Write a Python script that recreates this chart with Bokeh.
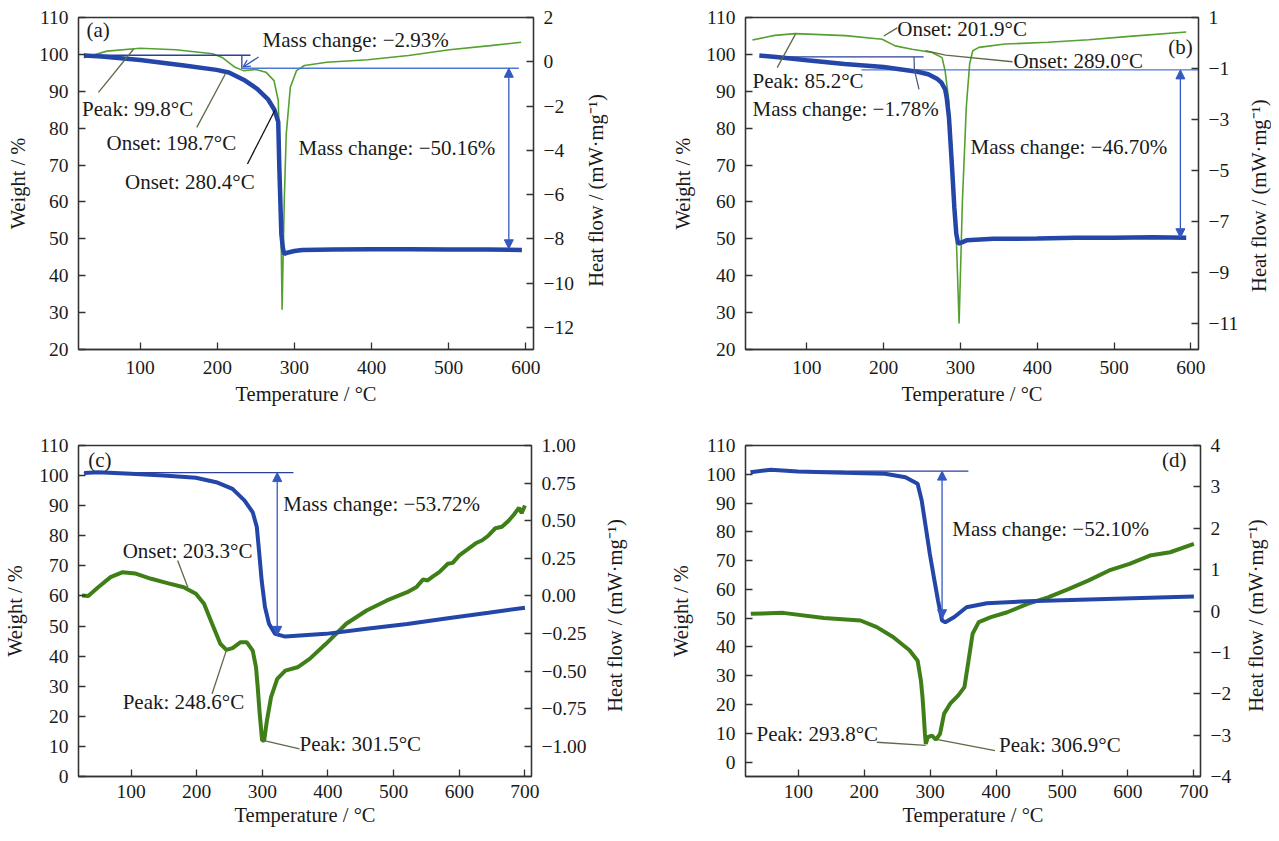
import math
from bokeh.plotting import figure
from bokeh.models import Range1d, LinearAxis, FixedTicker, Arrow, NormalHead, OpenHead
from bokeh.layouts import column, row
from bokeh.embed import file_html
from bokeh.resources import INLINE
from bokeh.core.properties import value

FONT = "Liberation Serif"
BLUE = "#2446a8"
GREEN_THIN = "#55a030"
GREEN_THICK = "#3f7f17"
DARKLINE = "#2b3f9b"
LIGHTLINE = "#4d79d6"
ARROWC = "#3558c0"
LEADER = "#5b6b45"
AXC = "#333333"
TXT = "#1a1a1a"
HF_TITLE = "Heat flow / (mW\u00b7mg\u207b\u00b9)"

# ---------------- data: panel (a) ----------------
temp_a_w = [27, 50, 100, 157, 199, 215, 236, 252, 265.5, 274, 279, 280.4, 283, 285, 286.8, 292, 300, 310, 350, 400, 450, 500, 550, 595]
weight_a = [99.7, 99.4, 98.5, 97.0, 95.8, 95.1, 92.9, 90.6, 87.9, 85.0, 81.7, 69.4, 51.4, 47.5, 45.9, 46.3, 46.7, 47.0, 47.1, 47.2, 47.2, 47.1, 47.1, 47.0]
temp_a_h = [27, 57, 100, 146, 194, 207, 223, 234, 250, 263, 273.5, 279, 281.5, 284, 286.8, 289.4, 294.7, 302.7, 313, 342, 395, 448, 501, 554, 594]
heat_a = [0.18, 0.48, 0.61, 0.54, 0.36, 0.18, -0.25, -0.40, -0.35, -0.47, -0.85, -1.75, -4.76, -11.2, -6.27, -3.26, -1.15, -0.40, -0.17, -0.02, 0.09, 0.28, 0.54, 0.73, 0.88]

# ---------------- data: panel (b) ----------------
temp_b_w = [38, 60, 100, 149, 200, 244, 258, 270, 275, 280, 282, 285, 289, 292, 294.5, 297, 300, 308, 343, 400, 450, 500, 550, 594]
weight_b = [99.7, 99.3, 98.4, 97.4, 96.6, 95.3, 94.6, 93.3, 92.4, 90.5, 88.3, 82.9, 69.4, 58.5, 51.4, 48.7, 48.9, 49.6, 50.0, 50.1, 50.3, 50.3, 50.4, 50.3]
temp_b_h = [29, 58, 85, 150, 198, 215, 237, 263, 276, 280, 284.8, 290, 294.4, 298.2, 302.5, 307.6, 312, 316, 324, 358, 414, 467, 520, 594]
heat_b = [0.12, 0.30, 0.37, 0.29, 0.15, -0.11, -0.24, -0.37, -0.57, -1.09, -2.26, -4.8, -7.46, -10.98, -6.2, -2.5, -0.8, -0.3, -0.17, -0.04, 0.03, 0.13, 0.26, 0.43]

# ---------------- data: panel (c) ----------------
temp_c_w = [28.6, 50, 99.8, 149.3, 198.8, 229.8, 254.6, 273, 285.4, 291.6, 295.4, 299, 304, 310.3, 319.5, 335, 396.9, 458.8, 520.7, 582.6, 644.5, 700]
weight_c = [100.9, 101.1, 100.6, 100.0, 99.3, 97.8, 95.6, 91.7, 87.8, 82.9, 74.0, 65.1, 56.3, 50.7, 47.4, 46.5, 47.4, 49.1, 50.7, 52.6, 54.4, 56.1]
temp_c_h = [25.5, 34.8, 50, 68.8, 87.4, 106, 130.7, 155.5, 180.3, 198.8, 211.2, 223.5, 236, 245.3, 254.6, 266.9, 276.2, 285.4, 290.4, 293, 296, 299.7, 302.8, 307, 313.3, 322.7, 335, 353.6, 372.1, 396.9, 427.8, 458.8, 489.8, 520.7, 535, 545, 551.7, 560, 570, 582.6, 590, 600, 613.6, 625, 635, 644.5, 655, 665, 675.5, 683, 691, 695, 700]
heat_c = [0.003, 0.0, 0.058, 0.125, 0.158, 0.15, 0.114, 0.085, 0.058, 0.014, -0.052, -0.185, -0.318, -0.358, -0.347, -0.307, -0.307, -0.363, -0.474, -0.607, -0.784, -0.961, -0.96, -0.828, -0.673, -0.551, -0.496, -0.474, -0.418, -0.318, -0.185, -0.097, -0.030, 0.025, 0.06, 0.11, 0.103, 0.13, 0.16, 0.214, 0.22, 0.27, 0.313, 0.35, 0.37, 0.402, 0.45, 0.46, 0.501, 0.54, 0.586, 0.55, 0.601]

# ---------------- data: panel (d) ----------------
temp_d_w = [27.6, 58.5, 99.3, 169.7, 231.5, 262.5, 281, 287.2, 293.4, 299.5, 305.7, 311.9, 318.1, 323, 336.7, 355.2, 386.1, 447.8, 540.5, 633.3, 700]
weight_d = [100.7, 101.6, 101.0, 100.5, 100.2, 99.0, 96.7, 90.9, 81.6, 72.4, 64.2, 56.2, 49.2, 48.6, 50.4, 53.8, 55.2, 55.9, 56.5, 57.1, 57.5]
temp_d_h = [28, 77, 138.9, 194.4, 219.1, 243.8, 268.7, 281, 286, 288.4, 290.2, 292.1, 293.4, 296.5, 302.7, 308.8, 315, 321.2, 330.4, 342.7, 352, 358.2, 364.4, 373.7, 392.2, 416.9, 447.8, 478.8, 509.7, 540.5, 571.5, 602.4, 633.3, 664, 700]
heat_d = [-0.068, -0.045, -0.17, -0.23, -0.39, -0.63, -0.95, -1.2, -1.68, -2.08, -2.48, -2.97, -3.21, -3.05, -3.01, -3.11, -2.97, -2.48, -2.24, -2.04, -1.84, -1.2, -0.55, -0.27, -0.15, -0.03, 0.17, 0.33, 0.53, 0.74, 0.98, 1.14, 1.34, 1.42, 1.62]

# ---------------- ticks ----------------
x_ticks_ab = [100, 200, 300, 400, 500, 600]
x_ticks_cd = [100, 200, 300, 400, 500, 600, 700]
w_ticks_ab = [20, 30, 40, 50, 60, 70, 80, 90, 100, 110]
w_ticks_cd = [0, 10, 20, 30, 40, 50, 60, 70, 80, 90, 100, 110]
h_ticks_a = [2, 0, -2, -4, -6, -8, -10, -12]
h_ticks_b = [1, -1, -3, -5, -7, -9, -11]
h_ticks_c = [1.0, 0.75, 0.5, 0.25, 0.0, -0.25, -0.5, -0.75, -1.0]
h_ticks_d = [4, 3, 2, 1, 0, -1, -2, -3, -4]

# ---------------- annotation texts ----------------
texts_a = ["(a)", "Mass change: \u22122.93%", "Peak: 99.8\u00b0C", "Onset: 198.7\u00b0C", "Onset: 280.4\u00b0C", "Mass change: \u221250.16%"]
tx_a = [30.4, 258.6, 24.7, 56.3, 80.3, 305.3]
ty_a = [106.5, 104.0, 85.3, 76.1, 65.4, 74.5]

texts_b = ["Onset: 201.9\u00b0C", "Onset: 289.0\u00b0C", "(b)", "Peak: 85.2\u00b0C", "Mass change: \u22121.78%", "Mass change: \u221246.70%"]
tx_b = [217.6, 368.9, 570.5, 29.1, 29.1, 313.0]
ty_b = [106.9, 98.2, 102.0, 92.9, 85.2, 74.8]

texts_c = ["(c)", "Mass change: \u221253.72%", "Onset: 203.3\u00b0C", "Peak: 248.6\u00b0C", "Peak: 301.5\u00b0C"]
tx_c = [34.9, 332.0, 87.3, 87.3, 356.7]
ty_c = [105.1, 90.6, 75.1, 24.7, 10.9]

texts_d = ["(d)", "Mass change: \u221252.10%", "Peak: 293.8\u00b0C", "Peak: 306.9\u00b0C"]
tx_d = [651.8, 333.5, 36.7, 404.6]
ty_d = [104.8, 81.1, 9.8, 5.8]


def lab(v, dec):
    s = f"{abs(v):.{dec}f}"
    return ("\u2212" + s) if v < 0 else s


def style_axis(ax, std_label, std_title):
    ax.major_tick_in = 7
    ax.major_tick_out = 0
    ax.minor_tick_line_color = None
    ax.axis_line_color = AXC
    ax.axis_line_width = 1.3
    ax.major_tick_line_color = AXC
    ax.major_tick_line_width = 1.3
    ax.major_label_text_font = FONT
    ax.major_label_text_font_size = "19.5px"
    ax.major_label_text_color = TXT
    ax.major_label_standoff = std_label
    ax.axis_label_text_font = FONT
    ax.axis_label_text_font_size = "20.5px"
    ax.axis_label_text_font_style = "normal"
    ax.axis_label_text_color = TXT
    ax.axis_label_standoff = std_title


def make_fig(width, height, mb, xr, yr, hr, xt, yt, ht, hdec, std):
    p = figure(width=width, height=height, x_range=Range1d(*xr), y_range=Range1d(*yr),
               output_backend="svg", toolbar_location=None,
               min_border_left=mb[0], min_border_right=mb[1],
               min_border_top=mb[2], min_border_bottom=mb[3])
    p.extra_y_ranges = {"hf": Range1d(*hr)}
    p.grid.visible = False
    p.outline_line_color = AXC
    p.outline_line_width = 1.3
    p.background_fill_color = "white"
    p.border_fill_color = "white"
    xa = p.below[0]
    xa.ticker = FixedTicker(ticks=xt)
    xa.major_label_overrides = {t: lab(t, 0) for t in xt}
    xa.axis_label = "Temperature / \u00b0C"
    style_axis(xa, std[0], std[1])
    ya = p.left[0]
    ya.ticker = FixedTicker(ticks=yt)
    ya.major_label_overrides = {t: lab(t, 0) for t in yt}
    ya.axis_label = "Weight / %"
    style_axis(ya, 10, std[2])
    ra = LinearAxis(y_range_name="hf", ticker=FixedTicker(ticks=ht))
    ra.major_label_overrides = {t: lab(t, hdec) for t in ht}
    style_axis(ra, 10, 0)
    p.add_layout(ra, "right")
    return p


def title_fig(width, height, top, bottom, yr, ypos):
    # narrow strip holding the right-axis title, reading bottom-to-top
    t = figure(width=width, height=height, x_range=Range1d(0, 1), y_range=Range1d(*yr),
               output_backend="svg", toolbar_location=None,
               x_axis_type=None, y_axis_type=None,
               min_border_left=0, min_border_right=0,
               min_border_top=top, min_border_bottom=bottom)
    t.grid.visible = False
    t.outline_line_color = None
    t.background_fill_color = "white"
    t.border_fill_color = "white"
    t.text(x=[0.5], y=[ypos], text=[HF_TITLE], angle=math.pi / 2,
           text_font=value(FONT), text_font_size="20.5px", text_color=TXT,
           text_align="center", text_baseline="middle")
    return t


def add_text(p, xs, ys, ts):
    p.text(x=xs, y=ys, text=ts, text_font=value(FONT), text_font_size="21px",
           text_color=TXT, text_baseline="middle", text_align="left")


def head(sz=9):
    return NormalHead(size=sz, fill_color=ARROWC, line_color=ARROWC)


# ---------------- panel (a) ----------------
pa = make_fig(583, 420, (78, 50, 17, 71), (20, 610), (20, 110), (-13, 2),
              x_ticks_ab, w_ticks_ab, h_ticks_a, 0, (11, 6, 7))
pa.line(temp_a_h, heat_a, y_range_name="hf", line_color=GREEN_THIN, line_width=1.6)
pa.line([27, 243], [99.76, 99.76], line_color=DARKLINE, line_width=1.3)
pa.line([231.8, 231.8], [99.76, 96.24], line_color=DARKLINE, line_width=1.3)
pa.line([231, 591], [96.24, 96.24], line_color=LIGHTLINE, line_width=1.3)
pa.add_layout(Arrow(end=OpenHead(size=7, line_color=ARROWC, line_width=1.3), x_start=253.5, y_start=99.3,
                    x_end=233.5, y_end=96.6, line_color=ARROWC, line_width=1.3))
pa.add_layout(Arrow(start=head(), end=head(), x_start=578, y_start=96.24, x_end=578, y_end=47.3,
                    line_color=ARROWC, line_width=1.3))
pa.line(temp_a_w, weight_a, line_color=BLUE, line_width=4.5)
pa.line([45.9, 91.3], [89.7, 101.4], line_color=LEADER, line_width=1.3)
pa.line([173.4, 210.2], [80.2, 94.6], line_color=LEADER, line_width=1.3)
pa.line([239.1, 274.5], [70.3, 84.8], line_color="#111111", line_width=1.3)
add_text(pa, tx_a, ty_a, texts_a)
ta = title_fig(25, 420, 17, 71, (20, 110), 63.1)

# ---------------- panel (b) ----------------
pb = make_fig(638, 420, (137, 48, 17, 71), (20, 610), (20, 110), (-12, 1),
              x_ticks_ab, w_ticks_ab, h_ticks_b, 0, (11, 6, 9))
pb.line(temp_b_h, heat_b, y_range_name="hf", line_color=GREEN_THIN, line_width=1.6)
pb.line([40, 252], [99.3, 99.3], line_color=DARKLINE, line_width=1.3)
pb.line([171, 610], [95.8, 95.8], line_color=LIGHTLINE, line_width=1.3)
pb.add_layout(Arrow(start=head(), end=head(), x_start=586.4, y_start=95.8, x_end=586.4, y_end=50.3,
                    line_color=ARROWC, line_width=1.3))
pb.line(temp_b_w, weight_b, line_color=BLUE, line_width=4.5)
pb.line([239.5, 240.0, 246.0], [99.3, 95.8, 90.5], line_color="#4a5a8a", line_width=1.3)
pb.line([200.1, 217.6], [105.0, 107.2], line_color=LEADER, line_width=1.3)
pb.line([254.4, 280.5, 367.8], [101.0, 99.8, 98.0], line_color=LEADER, line_width=1.3)
pb.line([61.3, 85.1], [96.4, 105.5], line_color=LEADER, line_width=1.3)
add_text(pb, tx_b, ty_b, texts_b)
tb = title_fig(25, 420, 17, 71, (20, 110), 61.7)

# ---------------- panel (c) ----------------
pc = make_fig(589, 412, (78, 56, 25, 56), (20, 710), (0, 110), (-1.2, 1.0),
              x_ticks_cd, w_ticks_cd, h_ticks_c, 2, (8, 3, 10))
pc.line([28, 347.4], [101, 101], line_color=DARKLINE, line_width=1.3)
pc.add_layout(Arrow(start=head(), end=head(), x_start=322.7, y_start=101, x_end=322.7, y_end=46.9,
                    line_color=ARROWC, line_width=1.3))
pc.line(temp_c_h, heat_c, y_range_name="hf", line_color=GREEN_THICK, line_width=4)
pc.line(temp_c_w, weight_c, line_color=BLUE, line_width=4)
pc.line([171, 186.5], [71.8, 62.9], line_color=LEADER, line_width=1.3)
pc.line([223.5, 245.2], [27.5, 41.9], line_color=LEADER, line_width=1.3)
pc.line([301, 356.7], [12.0, 9.2], line_color=LEADER, line_width=1.3)
add_text(pc, tx_c, ty_c, texts_c)
tc = title_fig(50, 412, 25, 56, (0, 110), 53.5)

# ---------------- panel (d) ----------------
pd_ = make_fig(601, 412, (106, 40, 25, 56), (20, 710), (-5, 110), (-4, 4),
               x_ticks_cd, w_ticks_cd, h_ticks_d, 0, (8, 3, 11))
pd_.line([28, 358], [101.1, 101.1], line_color=DARKLINE, line_width=1.3)
pd_.add_layout(Arrow(start=head(), end=head(), x_start=318.1, y_start=101.1, x_end=318.1, y_end=49.8,
                     line_color=ARROWC, line_width=1.3))
pd_.line(temp_d_h, heat_d, y_range_name="hf", line_color=GREEN_THICK, line_width=4)
pd_.line(temp_d_w, weight_d, line_color=BLUE, line_width=4)
pd_.line([219.1, 293.4], [6.9, 5.8], line_color=LEADER, line_width=1.3)
pd_.line([305.7, 398.4], [8.1, 4.0], line_color=LEADER, line_width=1.3)
add_text(pd_, tx_d, ty_d, texts_d)
td = title_fig(31, 412, 25, 56, (-5, 110), 50.9)

layout = column(row(pa, ta, pb, tb), row(pc, tc, pd_, td))
open("out.html", "w").write(file_html(layout, INLINE))
